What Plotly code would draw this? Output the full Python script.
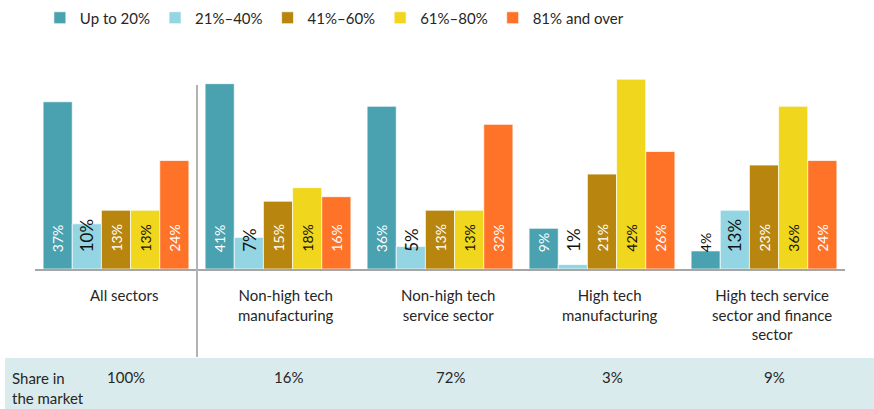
import plotly.graph_objects as go

# Sector categories (tick labels) and their share in the market
sectors = [
    "All sectors",
    "Non-high tech<br>manufacturing",
    "Non-high tech<br>service sector",
    "High tech<br>manufacturing",
    "High tech service<br>sector and finance<br>sector",
]
market_share = ["100%", "16%", "72%", "3%", "9%"]

# Series: share of firms by band (percent)
series_names = ["Up to 20%", "21%–40%", "41%–60%", "61%–80%", "81% and over"]
up_to_20 = [37, 41, 36, 9, 4]
from_21_to_40 = [10, 7, 5, 1, 13]
from_41_to_60 = [13, 15, 13, 21, 23]
from_61_to_80 = [13, 18, 13, 42, 36]
over_81 = [24, 16, 32, 26, 24]
series_values = [up_to_20, from_21_to_40, from_41_to_60, from_61_to_80, over_81]

colors = ["#4AA1AF", "#93D5E3", "#B8860F", "#F0D61C", "#FE7328"]
label_colors = ["white", "#111111", "white", "#111111", "white"]
label_sizes = [14, 17, 14, 14, 14]

FONT = "Lato, Carlito, Calibri, sans-serif"
x_idx = list(range(len(sectors)))

fig = go.Figure()
for name, vals, col in zip(series_names, series_values, colors):
    fig.add_trace(go.Bar(
        x=x_idx, y=vals, name=name,
        marker=dict(color=col, line=dict(color="rgba(255,255,255,0.7)", width=1)),
        hoverinfo="skip",
    ))

# Value labels, rotated, anchored near the base of each bar
n = len(series_names)
group_w = 0.9
bar_w = group_w / n
annotations = []
for s, vals in enumerate(series_values):
    for i, v in enumerate(vals):
        xc = i - group_w / 2 + bar_w * (s + 0.5)
        col = label_colors[s]
        size = label_sizes[s]
        # labels that do not fit inside a short teal bar are drawn in black
        if s == 0 and v < 6:
            col = "#111111"
        annotations.append(dict(
            x=xc, y=0, xref="x", yref="y", text=f"{v}%", showarrow=False,
            textangle=-90, xanchor="center", yanchor="bottom", yshift=15,
            font=dict(family=FONT, size=size, color=col),
        ))

# Category labels under the axis
for i, lab in enumerate(sectors):
    annotations.append(dict(
        x=i, y=0, xref="x", yref="y", text=lab, showarrow=False,
        xanchor="center", yanchor="top", yshift=-15, xshift=8, align="center",
        font=dict(family=FONT, size=15, color="#262626"),
    ))

# Market share row
for i, share in enumerate(market_share):
    annotations.append(dict(
        x=i, y=0, xref="x", yref="y", text=share, showarrow=False,
        xanchor="center", yanchor="middle", yshift=-108, xshift=10,
        font=dict(family=FONT, size=15, color="#262626"),
    ))
annotations.append(dict(
    x=-0.031, y=0, xref="paper", yref="y", text="Share in<br>the market",
    showarrow=False, xanchor="left", yanchor="middle", yshift=-119, align="left",
    font=dict(family=FONT, size=15, color="#262626"),
))

shapes = [
    # shaded band behind the market-share row
    dict(type="rect", xref="paper", yref="paper", x0=-0.037, x1=1.04,
         y0=-0.64, y1=-0.394, fillcolor="#DAEBEE", line=dict(width=0), layer="below"),
    # divider between the total and the individual sectors
    dict(type="line", xref="x", yref="paper", x0=0.5, x1=0.5, y0=-0.389, y1=0.814,
         line=dict(color="#B3B3B3", width=2)),
]

fig.update_layout(
    width=874, height=409,
    margin=dict(l=35, r=29, t=43, b=140, autoexpand=False),
    paper_bgcolor="white", plot_bgcolor="white",
    barmode="group", bargap=0.1, bargroupgap=0,
    font=dict(family=FONT, size=15, color="#262626"),
    showlegend=True,
    legend=dict(orientation="h", x=0.006, xanchor="left",
                yref="container", y=0.956, yanchor="middle",
                font=dict(family=FONT, size=15, color="#262626"),
                itemclick=False, itemdoubleclick=False, tracegroupgap=0),
    xaxis=dict(range=[-0.5, 4.5], showticklabels=False, showgrid=False, zeroline=False,
               showline=True, linecolor="#A6A6A6", linewidth=2, ticks="", fixedrange=True),
    yaxis=dict(range=[0, 50], visible=False, showgrid=False, zeroline=False, fixedrange=True),
    annotations=annotations,
    shapes=shapes,
)

fig.write_html("out.html", config={"displayModeBar": False})
